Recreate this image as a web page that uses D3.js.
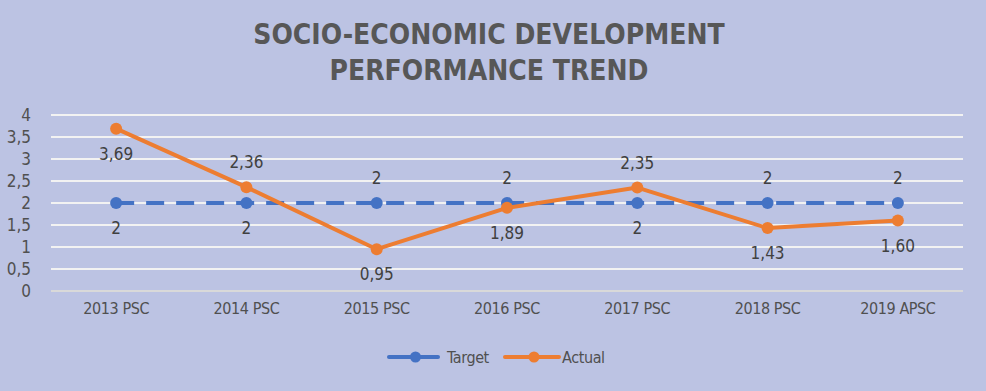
<!DOCTYPE html>
<html>
<head>
<meta charset="utf-8">
<script src="https://cdn.jsdelivr.net/npm/d3@7"></script>
<style>
  html, body { margin: 0; padding: 0; background: #bcc3e3; }
  svg { display: block; }
  text { font-family: "Liberation Sans Narrow", "DejaVu Sans Condensed", "Roboto", sans-serif; }
</style>
</head>
<body>
<svg width="986" height="391"></svg>
<script>
var WIDTH = 986;
var HEIGHT = 391;
var BLUE = '#4472c4';
var ORANGE = '#ed7d31';
var TEXT = '#505050';

var categories = ['2013 PSC', '2014 PSC', '2015 PSC', '2016 PSC', '2017 PSC', '2018 PSC', '2019 APSC'];
var target = [2, 2, 2, 2, 2, 2, 2];
var actual = [3.69, 2.36, 0.95, 1.89, 2.35, 1.43, 1.60];
var yTicks = [0, 0.5, 1, 1.5, 2, 2.5, 3, 3.5, 4];
// label above (-1) or below (+1) each point
var targetLabelSide = [1, 1, -1, -1, 1, -1, -1];
var actualLabelSide = [1, -1, 1, 1, -1, 1, 1];

var margin = { left: 51, right: 23, top: 115, bottom: 100 };

var svg = d3.select('svg');

var x = d3.scaleBand()
  .domain(categories)
  .range([margin.left, WIDTH - margin.right]);

var y = d3.scaleLinear()
  .domain([0, 4])
  .range([HEIGHT - margin.bottom, margin.top]);

function cx(i) { return x(categories[i]) + x.bandwidth() / 2; }
function fmt(v) { return (v === Math.round(v)) ? String(v) : v.toFixed(2).replace('.', ','); }

// title
svg.append('text')
  .attr('x', 489).attr('y', 44)
  .attr('text-anchor', 'middle')
  .attr('font-size', 28).attr('font-weight', 'bold')
  .attr('fill', '#575757')
  .text('SOCIO-ECONOMIC DEVELOPMENT');
svg.append('text')
  .attr('x', 489).attr('y', 80)
  .attr('text-anchor', 'middle')
  .attr('font-size', 28).attr('font-weight', 'bold')
  .attr('fill', '#575757')
  .text('PERFORMANCE TREND');

// gridlines
svg.append('g').selectAll('line')
  .data(yTicks)
  .join('line')
  .attr('x1', margin.left).attr('x2', WIDTH - margin.right)
  .attr('y1', function (d) { return y(d); })
  .attr('y2', function (d) { return y(d); })
  .attr('stroke', function (d) { return d === 0 ? '#d9d9d9' : '#f2f2f2'; })
  .attr('stroke-width', 2);

// y axis labels
var yAxis = d3.axisLeft(y).tickValues(yTicks).tickSize(0).tickPadding(0)
  .tickFormat(function (d) { return String(d).replace('.', ','); });
svg.append('g')
  .attr('transform', 'translate(31,0)')
  .call(yAxis)
  .call(function (g) { g.select('.domain').remove(); })
  .selectAll('text')
  .attr('font-size', 17).attr('fill', TEXT)
  .style('font-family', '"Liberation Sans Narrow", "DejaVu Sans Condensed", sans-serif');

// x axis labels
var xAxis = d3.axisBottom(x).tickSize(0).tickPadding(0);
svg.append('g')
  .attr('transform', 'translate(0,' + (y(0) + 12) + ')')
  .call(xAxis)
  .call(function (g) { g.select('.domain').remove(); })
  .selectAll('text')
  .attr('font-size', 16).attr('fill', TEXT)
  .attr('letter-spacing', -0.4)
  .style('font-family', '"Liberation Sans Narrow", "DejaVu Sans Condensed", sans-serif');

var line = d3.line()
  .x(function (d, i) { return cx(i); })
  .y(function (d) { return y(d); });

// target series
svg.append('path')
  .datum(target)
  .attr('d', line)
  .attr('fill', 'none')
  .attr('stroke', BLUE)
  .attr('stroke-width', 4)
  .attr('stroke-dasharray', '18,12');
svg.append('g').selectAll('circle')
  .data(target)
  .join('circle')
  .attr('cx', function (d, i) { return cx(i); })
  .attr('cy', function (d) { return y(d); })
  .attr('r', 6)
  .attr('fill', BLUE);

// actual series
svg.append('path')
  .datum(actual)
  .attr('d', line)
  .attr('fill', 'none')
  .attr('stroke', ORANGE)
  .attr('stroke-width', 4)
  .attr('stroke-linejoin', 'round');
svg.append('g').selectAll('circle')
  .data(actual)
  .join('circle')
  .attr('cx', function (d, i) { return cx(i); })
  .attr('cy', function (d) { return y(d); })
  .attr('r', 6)
  .attr('fill', ORANGE);

// data labels
function labels(data, sides) {
  svg.append('g').selectAll('text')
    .data(data)
    .join('text')
    .attr('x', function (d, i) { return cx(i); })
    .attr('y', function (d, i) { return y(d) + sides[i] * 25; })
    .attr('dy', '0.35em')
    .attr('text-anchor', 'middle')
    .attr('font-size', 17)
    .attr('fill', '#404040')
    .text(function (d) { return fmt(d); });
}
labels(target, targetLabelSide);
labels(actual, actualLabelSide);

// legend
var legend = [
  { name: 'Target', color: BLUE, x: 389, w: 49 },
  { name: 'Actual', color: ORANGE, x: 505, w: 54 }
];
var lg = svg.append('g').selectAll('g')
  .data(legend)
  .join('g')
  .attr('transform', function (d) { return 'translate(' + d.x + ',357)'; });
lg.append('line')
  .attr('x1', 0).attr('x2', function (d) { return d.w; })
  .attr('stroke', function (d) { return d.color; })
  .attr('stroke-width', 4)
  .attr('stroke-linecap', 'round');
lg.append('circle')
  .attr('cx', function (d) { return d.w / 2 + 2; }).attr('r', 5.5)
  .attr('fill', function (d) { return d.color; });
lg.append('text')
  .attr('x', function (d) { return d.w + (d.name === 'Target' ? 9 : 3); })
  .attr('dy', '0.35em')
  .attr('font-size', 16).attr('fill', TEXT)
  .attr('letter-spacing', -0.4)
  .text(function (d) { return d.name; });
</script>
</body>
</html>
